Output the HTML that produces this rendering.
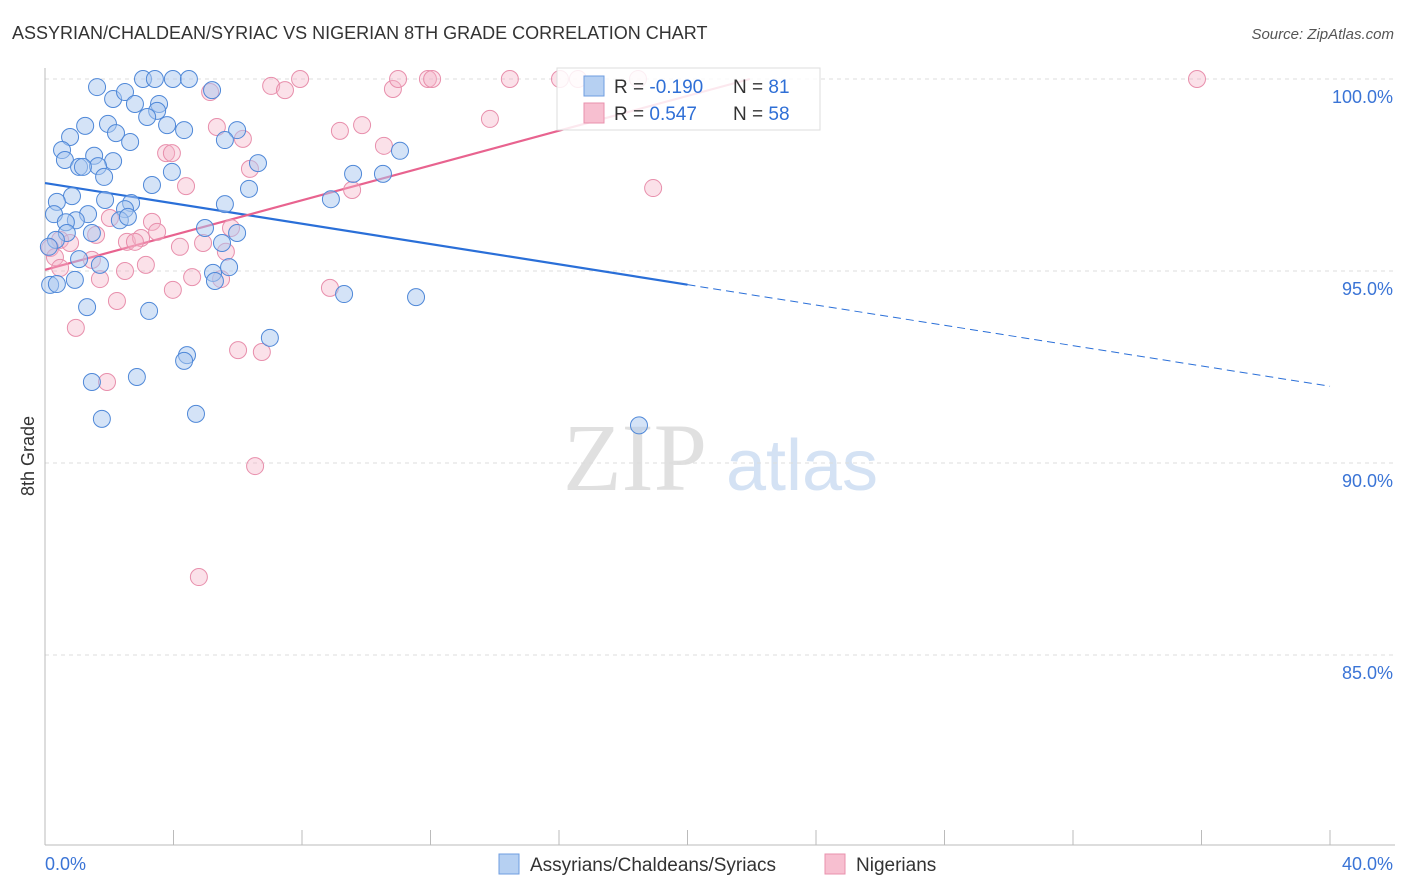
<!DOCTYPE html>
<html><head><meta charset="utf-8"><style>
body{margin:0;background:#fff;font-family:"Liberation Sans",sans-serif;}
svg{display:block}
</style></head><body>
<svg id="chart" width="1406" height="892" font-family="Liberation Sans, sans-serif">
<text x="12" y="39" font-size="18" fill="#333">ASSYRIAN/CHALDEAN/SYRIAC VS NIGERIAN 8TH GRADE CORRELATION CHART</text>
<text x="1394" y="39" font-size="15" fill="#555" font-style="italic" text-anchor="end">Source: ZipAtlas.com</text>
<text x="34" y="456" font-size="18" fill="#333" text-anchor="middle" transform="rotate(-90 34 456)">8th Grade</text>
<g>
<text x="635" y="490" font-size="96" fill="#e0e0e0" font-family="Liberation Serif, serif" text-anchor="middle">ZIP</text>
<text x="802" y="490" font-size="72" fill="#d4e2f4" text-anchor="middle">atlas</text>
</g>
<g id="grid"></g><g id="axes"></g><g id="lines"></g><g id="pts"></g>
<g>
<rect x="557" y="68" width="263" height="62" fill="#fff" fill-opacity="0.85" stroke="#ddd"/>
<rect x="584" y="76" width="20" height="20" fill="#b6d0f2" stroke="#6f9ee0"/>
<rect x="584" y="103" width="20" height="20" fill="#f7bfd0" stroke="#e891ad"/>
<text x="614" y="93" font-size="19" fill="#333">R = <tspan fill="#2f6fd6">-0.190</tspan></text>
<text x="733" y="93" font-size="19" fill="#333">N = <tspan fill="#2f6fd6"> 81</tspan></text>
<text x="614" y="120" font-size="19" fill="#333">R = <tspan fill="#2f6fd6"> 0.547</tspan></text>
<text x="733" y="120" font-size="19" fill="#333">N = <tspan fill="#2f6fd6">58</tspan></text>
</g>
<g>
<rect x="499" y="854" width="20" height="20" fill="#b6d0f2" stroke="#6f9ee0"/>
<text x="530" y="871" font-size="19" fill="#333">Assyrians/Chaldeans/Syriacs</text>
<rect x="825" y="854" width="20" height="20" fill="#f7bfd0" stroke="#e891ad"/>
<text x="856" y="871" font-size="19" fill="#333">Nigerians</text>
</g>
</svg>
<script>
const blueX=[1.62,2.12,2.49,3.05,3.42,3.98,4.48,5.20,2.80,3.55,3.49,3.18,3.80,4.33,5.98,5.60,1.25,0.78,1.96,2.21,2.65,0.53,0.62,1.06,1.53,2.12,1.65,1.18,1.84,3.95,6.63,11.05,9.59,10.52,3.33,6.35,0.84,0.37,1.87,2.68,2.49,0.28,1.34,5.60,0.96,2.33,2.58,0.65,0.68,1.46,0.34,0.12,4.98,5.98,5.51,8.90,1.06,1.71,5.73,5.23,5.29,0.93,0.16,0.37,1.31,3.24,9.31,11.55,7.00,4.42,4.33,1.46,2.86,4.70,1.77,18.49];
const blueY=[99.79,99.48,99.66,100,100,100,100,99.71,99.35,99.35,99.17,99.01,98.80,98.67,98.67,98.41,98.78,98.49,98.83,98.59,98.36,98.15,97.89,97.71,98.00,97.86,97.73,97.71,97.45,97.58,97.81,98.13,97.53,97.53,97.24,97.14,96.95,96.80,96.85,96.77,96.61,96.48,96.48,96.74,96.32,96.32,96.41,96.27,95.99,95.99,95.81,95.63,96.12,95.99,95.73,96.87,95.31,95.16,95.10,94.95,94.74,94.77,94.64,94.66,94.06,93.96,94.40,94.32,93.26,92.81,92.66,92.11,92.24,91.28,91.15,90.98];
const pinkX=[5.14,7.04,7.47,7.94,10.83,10.99,11.92,12.05,14.47,16.03,16.59,18.46,35.86,13.85,9.87,9.18,5.35,6.16,10.55,3.77,3.95,4.39,6.38,9.56,18.93,2.02,3.33,5.79,2.55,2.99,2.80,3.49,4.92,4.20,1.59,0.47,0.16,0.78,5.63,1.46,0.31,3.14,0.47,2.49,4.58,5.48,1.71,8.87,3.98,2.24,0.96,6.01,6.75,1.93,6.54,4.79];
const pinkY=[99.66,99.82,99.71,100,99.74,100,100,100,100,100,100,100,100,98.96,98.80,98.65,98.75,98.44,98.26,98.07,98.07,97.21,97.66,97.11,97.16,96.38,96.28,96.12,95.76,95.86,95.76,96.02,95.73,95.63,95.94,95.81,95.60,95.73,95.50,95.29,95.36,95.16,95.08,95.00,94.84,94.79,94.79,94.56,94.51,94.22,93.52,92.94,92.89,92.11,89.92,87.03];
const yTicks=[100,95,90,85];
const yTickLabels=["100.0%","95.0%","90.0%","85.0%"];
const xTicks=[0,4,8,12,16,20,24,28,32,36,40];
const blueTrend=[97.29,-0.1323];
const pinkTrend=[95.03,0.2265];
const NS='http://www.w3.org/2000/svg';
const sx=v=>45+v*32.125, sy=v=>79+(100-v)*38.4;
function mk(p,t,a){const e=document.createElementNS(NS,t);for(const k in a)e.setAttribute(k,a[k]);document.getElementById(p).appendChild(e);return e;}
yTicks.forEach((t,i)=>{
 const l=mk('grid','line',{x1:45,x2:1395,y1:sy(t),y2:sy(t),stroke:'#ddd','stroke-dasharray':'4 4'});
 
 
 const tx=mk('grid','text',{x:1393,y:sy(t)+24,'font-size':18,fill:'#3a74d6','text-anchor':'end'});
 tx.textContent=yTickLabels[i];
 
 
});
mk('axes','line',{x1:45,x2:45,y1:68,y2:845,stroke:'#bbb'});
mk('axes','line',{x1:45,x2:1395,y1:845,y2:845,stroke:'#bbb'});
xTicks.forEach(t=>{const l=mk('axes','line',{x1:sx(t),x2:sx(t),y1:830,y2:845,stroke:'#bbb'});
 
 });
[[0,'0.0%','start',45],[40,'40.0%','end',1393]].forEach(a=>{const t=mk('axes','text',{x:a[3],y:870,'font-size':18,fill:'#3a74d6','text-anchor':a[2]});t.textContent=a[1];
 
 });
const bl=mk('lines','line',{x1:sx(0),y1:sy(blueTrend[0]),x2:sx(20),y2:sy(blueTrend[0]+blueTrend[1]*20),stroke:'#2a6fd8','stroke-width':2.2});


const bd=mk('lines','line',{x1:sx(20),y1:sy(blueTrend[0]+blueTrend[1]*20),x2:sx(40),y2:sy(blueTrend[0]+blueTrend[1]*40),stroke:'#2a6fd8','stroke-width':1,'stroke-dasharray':'8 5'});


const px2=(100-pinkTrend[0])/pinkTrend[1];
const pl=mk('lines','line',{x1:sx(0),y1:sy(pinkTrend[0]),x2:sx(px2),y2:sy(100),stroke:'#e8638f','stroke-width':2.2});


pinkX.forEach((x,i)=>{const c=mk('pts','circle',{cx:sx(x),cy:sy(pinkY[i]),r:8.5,fill:'#f4b4c8','fill-opacity':0.4,stroke:'#e88fac','stroke-width':1});
 
 });
blueX.forEach((x,i)=>{const c=mk('pts','circle',{cx:sx(x),cy:sy(blueY[i]),r:8.5,fill:'#a9c8f0','fill-opacity':0.5,stroke:'#4f88d8','stroke-width':1});
 
 });
</script>
</body></html>
